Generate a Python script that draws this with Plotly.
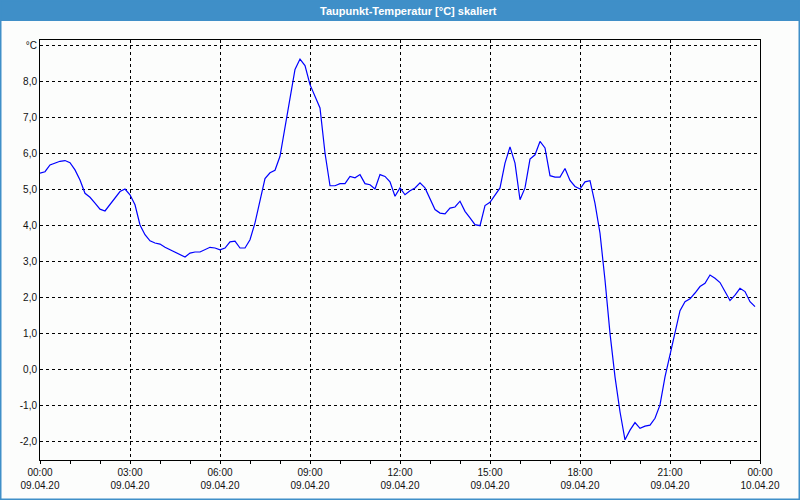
import pandas as pd
import plotly.graph_objects as go

# 10-minute samples, 09.04.20 00:00 .. 23:50
start_time = "2020-04-09 00:00"
step_minutes = 10
dewpoint = [
    5.45, 5.49, 5.68, 5.74, 5.78, 5.80, 5.74, 5.54, 5.26, 4.89, 4.78, 4.62,
    4.45, 4.40, 4.57, 4.74, 4.94, 5.01, 4.85, 4.57, 4.01, 3.74, 3.57, 3.51,
    3.48, 3.39, 3.32, 3.26, 3.18, 3.12, 3.23, 3.26, 3.26, 3.32, 3.39, 3.37,
    3.32, 3.37, 3.54, 3.56, 3.37, 3.37, 3.60, 4.07, 4.71, 5.30, 5.46, 5.53,
    5.92, 6.71, 7.54, 8.33, 8.62, 8.44, 7.91, 7.58, 7.26, 6.01, 5.10, 5.10,
    5.16, 5.16, 5.36, 5.32, 5.41, 5.16, 5.13, 5.01, 5.41, 5.36, 5.21, 4.81,
    5.04, 4.85, 4.96, 5.04, 5.18, 5.04, 4.76, 4.44, 4.34, 4.32, 4.48, 4.51,
    4.67, 4.39, 4.21, 4.02, 3.99, 4.55, 4.64, 4.83, 5.04, 5.73, 6.18, 5.73,
    4.71, 5.04, 5.84, 5.96, 6.33, 6.15, 5.38, 5.34, 5.34, 5.58, 5.25, 5.08,
    5.01, 5.21, 5.24, 4.61, 3.78, 2.48, 1.00, -0.21, -1.18, -1.96, -1.69, -1.48,
    -1.64, -1.58, -1.55, -1.36, -0.99, -0.21, 0.40, 1.10, 1.63, 1.88, 1.96, 2.12,
    2.30, 2.39, 2.62, 2.53, 2.41, 2.16, 1.91, 2.06, 2.25, 2.16, 1.88, 1.74,
]
times = pd.date_range(start_time, periods=len(dewpoint), freq=f"{step_minutes}min")

y_tickvals = [-2, -1, 0, 1, 2, 3, 4, 5, 6, 7, 8, 9]
y_ticktext = ["-2,0", "-1,0", "0,0", "1,0", "2,0", "3,0", "4,0", "5,0",
              "6,0", "7,0", "8,0", "°C"]
x_tickvals = pd.date_range("2020-04-09 00:00", "2020-04-10 00:00", freq="3h")
x_ticktext = ["00:00<br>09.04.20", "03:00<br>09.04.20", "06:00<br>09.04.20",
              "09:00<br>09.04.20", "12:00<br>09.04.20", "15:00<br>09.04.20",
              "18:00<br>09.04.20", "21:00<br>09.04.20", "00:00<br>10.04.20"]
title_text = "Taupunkt-Temperatur [°C] skaliert"

BLUE = "#3f8fc8"
W, H = 800, 500
L, R, T, B = 40, 40, 40, 40
pw, ph = W - L - R, H - T - B

def px(x):
    return (x - L) / pw

def py(y):
    return (H - B - y) / ph

fig = go.Figure()
fig.add_trace(go.Scatter(x=times, y=dewpoint, mode="lines",
                         line=dict(color="#0000ff", width=1.2),
                         hoverinfo="skip", showlegend=False))

font = dict(family="Liberation Sans, DejaVu Sans, sans-serif", size=10, color="#111111")

fig.update_layout(
    width=W, height=H,
    margin=dict(l=L, r=R, t=T, b=B, autoexpand=False),
    paper_bgcolor="#fcfdfc",
    plot_bgcolor="#fcfdfc",
    font=font,
    showlegend=False,
    shapes=[
        dict(type="rect", xref="paper", yref="paper",
             x0=px(0), x1=px(W), y0=py(21), y1=py(0),
             fillcolor=BLUE, line=dict(width=0), layer="below"),
        dict(type="rect", xref="paper", yref="paper",
             x0=px(0.5), x1=px(W - 0.5), y0=py(H - 0.5), y1=py(0.5),
             fillcolor="rgba(0,0,0,0)", line=dict(color=BLUE, width=2)),
    ],
    annotations=[
        dict(text=title_text, xref="paper", yref="paper",
             x=px(409), y=py(10.5), xanchor="center", yanchor="middle",
             showarrow=False,
             font=dict(family="Liberation Sans, DejaVu Sans, sans-serif",
                       size=11, color="white", weight="bold")),
    ],
)

fig.update_xaxes(
    type="date", automargin=False,
    range=[x_tickvals[0], x_tickvals[-1]],
    tickvals=x_tickvals, ticktext=x_ticktext,
    tickangle=0,
    showgrid=True, gridcolor="black", gridwidth=1, griddash="3px,3px",
    showline=True, linecolor="black", linewidth=1, mirror=True,
    ticks="outside", ticklen=3, tickcolor="black",
    minor=dict(dtick=3600000, ticks="outside", ticklen=3, tickcolor="black",
               showgrid=False),
    zeroline=False,
    fixedrange=True,
)
fig.update_yaxes(
    automargin=False,
    range=[-2.52, 9.15],
    tickvals=y_tickvals, ticktext=y_ticktext,
    showgrid=True, gridcolor="black", gridwidth=1, griddash="3px,3px",
    showline=True, linecolor="black", linewidth=1, mirror=True,
    ticks="", zeroline=False,
    fixedrange=True,
)

fig.write_html("out.html", config={"displayModeBar": False},
               post_script="document.body.style.margin='0';document.body.style.overflow='hidden';")
